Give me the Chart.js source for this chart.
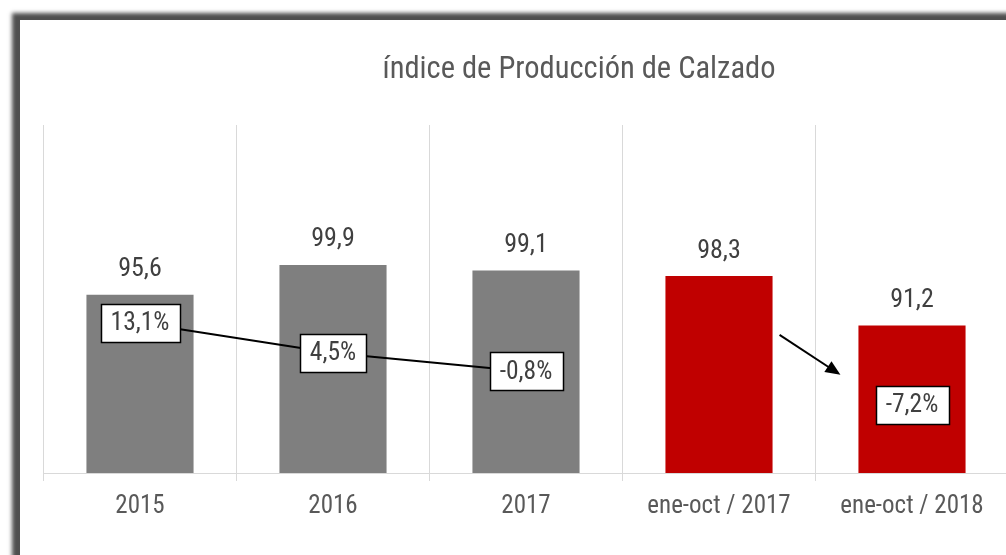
<!DOCTYPE html>
<html><head><meta charset="utf-8">
<script src="https://cdn.jsdelivr.net/npm/chart.js@4.4.0/dist/chart.umd.min.js"></script>
<style>
html,body{margin:0;padding:0;width:1006px;height:555px;overflow:hidden;background:#fff;}
#frame{position:absolute;left:20px;top:20px;width:1200px;height:700px;background:#fff;box-shadow:-8px -7px 4px rgba(70,70,70,0.95);}
#c{position:absolute;left:0;top:0;}
</style></head><body>
<div id="frame"><canvas id="c" width="1118" height="535"></canvas></div>
<script>
const chartTitle = 'índice de Producción de Calzado';
const categories = ['2015', '2016', '2017', 'ene-oct / 2017', 'ene-oct / 2018'];
const indexValues = [95.6, 99.9, 99.1, 98.3, 91.2];
const changeValues = [13.1, 4.5, -0.8, null, -7.2];
const barColors = ['#7f7f7f', '#7f7f7f', '#7f7f7f', '#c00000', '#c00000'];

const FONT = "'Roboto Condensed','Liberation Sans Narrow','Arial Narrow',sans-serif";
const fmt = v => v.toFixed(1).replace('.', ',');

const overlay = {
  id: 'overlay',
  afterDatasetsDraw(chart, args, opts) {
    const ctx = chart.ctx;
    const ca = chart.chartArea;
    ctx.save();
    // title
    ctx.font = '30.5px ' + FONT;
    ctx.fillStyle = '#595959';
    ctx.textAlign = 'center';
    ctx.textBaseline = 'alphabetic';
    ctx.fillText(chartTitle, chart.width / 2, 58);

    // bar value labels
    const barMeta = chart.getDatasetMeta(1);
    ctx.font = '26px ' + FONT;
    ctx.fillStyle = '#404040';
    ctx.textBaseline = 'middle';
    barMeta.data.forEach((bar, i) => {
      ctx.fillText(fmt(indexValues[i]), bar.x, bar.y - 25);
    });

    // arrow annotation between the two partial-year bars
    const b3 = barMeta.data[3], b4 = barMeta.data[4];
    const x1 = b3.x + b3.width / 2 + 7;
    const x2 = b4.x - b4.width / 2 - 18;
    const h = ca.bottom - ca.top;
    const y1 = ca.top + 0.603 * h;
    const y2 = ca.top + 0.718 * h;
    const ang = Math.atan2(y2 - y1, x2 - x1);
    const hl = 15, hw = 6.5;
    ctx.strokeStyle = '#000';
    ctx.lineWidth = 2;
    ctx.beginPath();
    ctx.moveTo(x1, y1);
    ctx.lineTo(x2 - Math.cos(ang) * hl * 0.8, y2 - Math.sin(ang) * hl * 0.8);
    ctx.stroke();
    ctx.fillStyle = '#000';
    ctx.beginPath();
    ctx.moveTo(x2, y2);
    ctx.lineTo(x2 - Math.cos(ang) * hl - Math.sin(ang) * hw, y2 - Math.sin(ang) * hl + Math.cos(ang) * hw);
    ctx.lineTo(x2 - Math.cos(ang) * hl + Math.sin(ang) * hw, y2 - Math.sin(ang) * hl - Math.cos(ang) * hw);
    ctx.closePath();
    ctx.fill();

    // percentage labels in boxes
    const lineMeta = chart.getDatasetMeta(0);
    ctx.font = '25.5px ' + FONT;
    lineMeta.data.forEach((pt, i) => {
      const v = changeValues[i];
      if (v === null || v === undefined) return;
      const txt = fmt(v) + '%';
      const w = Math.round(ctx.measureText(txt).width + 20);
      const bh = 38;
      const cy = pt.y + (opts.labelShift[i] || 0);
      const bx = Math.round(pt.x - w / 2) + 0.5;
      const by = Math.round(cy - bh / 2) + 0.5;
      ctx.fillStyle = '#fff';
      ctx.fillRect(bx, by, w, bh);
      ctx.strokeStyle = '#000';
      ctx.lineWidth = 1.5;
      ctx.strokeRect(bx, by, w, bh);
      ctx.fillStyle = '#404040';
      ctx.textAlign = 'center';
      ctx.textBaseline = 'middle';
      ctx.fillText(txt, pt.x, cy + 1);
    });
    ctx.restore();
  }
};

new Chart(document.getElementById('c'), {
  data: {
    labels: categories,
    datasets: [
      {
        type: 'line',
        label: 'Variación %',
        data: changeValues,
        yAxisID: 'y2',
        borderColor: '#000',
        borderWidth: 2,
        pointRadius: 0,
        spanGaps: false,
        tension: 0,
        order: 0
      },
      {
        type: 'bar',
        label: 'Índice',
        data: indexValues,
        yAxisID: 'y',
        backgroundColor: barColors,
        categoryPercentage: 1,
        barPercentage: 0.555,
        order: 1
      }
    ]
  },
  plugins: [overlay],
  options: {
    responsive: false,
    animation: false,
    devicePixelRatio: 1,
    layout: { padding: { left: 23.5, right: 129.5, top: 105, bottom: 22 } },
    plugins: {
      legend: { display: false },
      title: { display: false },
      tooltip: { enabled: false },
      overlay: { labelShift: [0, 0, 0, 0, 11] }
    },
    scales: {
      x: {
        offset: true,
        grid: { offset: true, color: '#d9d9d9', lineWidth: 1, tickLength: 8, drawTicks: true },
        border: { color: '#d9d9d9', width: 1 },
        ticks: { font: { family: FONT, size: 25 }, color: '#595959', padding: 11 }
      },
      y: { display: false, min: 70, max: 120 },
      y2: { display: false, min: -30, max: 70 }
    }
  }
});
</script>
</body></html>
